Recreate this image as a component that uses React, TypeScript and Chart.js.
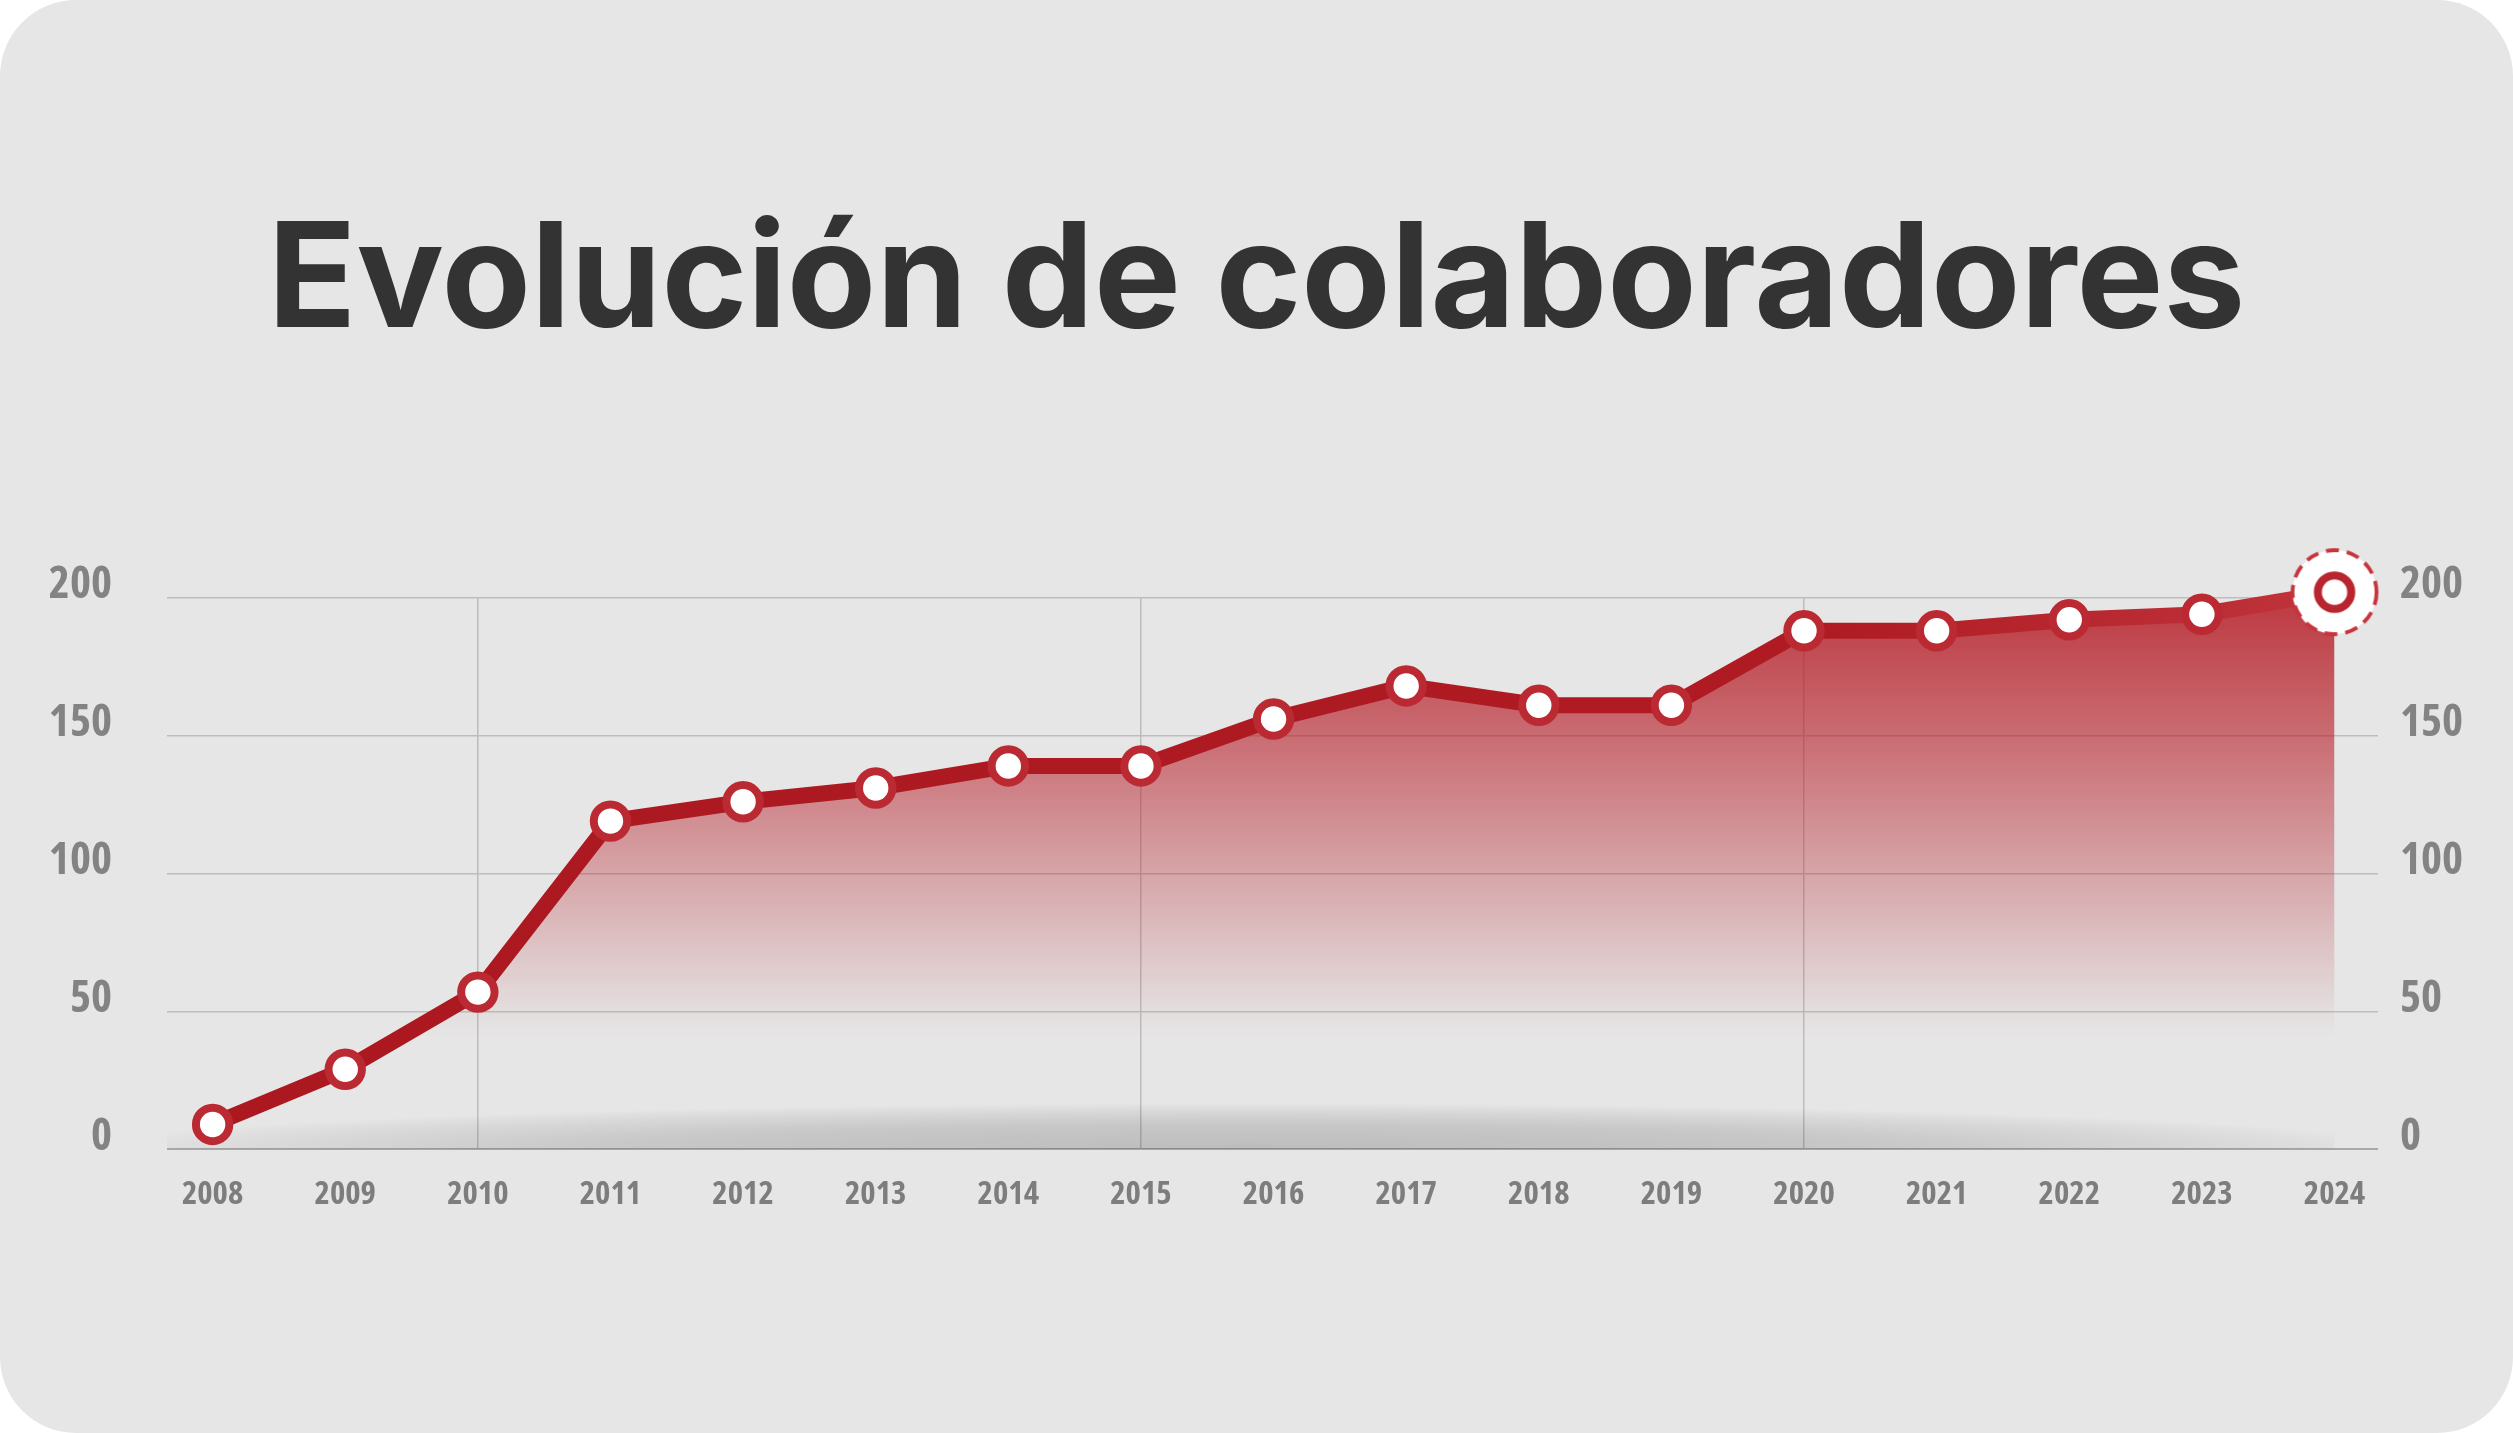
import React, { useEffect, useRef } from 'react';
import { Chart, registerables } from 'chart.js';

Chart.register(...registerables);

// ---- data ----
const TITLE = 'Evolución de colaboradores';
const years = [2008, 2009, 2010, 2011, 2012, 2013, 2014, 2015, 2016, 2017, 2018, 2019, 2020, 2021, 2022, 2023, 2024];
const collaborators = [9, 29, 57, 119, 126, 131, 139, 139, 156, 168, 161, 161, 188, 188, 192, 194, 202];
const yTicks = [0, 50, 100, 150, 200];
const gridYears = [2010, 2015, 2020];

// ---- layout ----
const W = 2513;
const H = 1433;
const AREA = { left: 167, right: 2378, top: 597.7, bottom: 1149.3 };
const X_MIN = 2007.656;
const X_MAX = 2024.328;

type FontPick = { weight: string; family: string; xSize: number; ySize: number };

// choose the narrowest-looking installed face for the condensed tick labels
function pickTickFont(): FontPick {
  const ctx = document.createElement('canvas').getContext('2d')!;
  const cands = [
    { weight: 'bold', family: "'Liberation Sans Narrow'" },
    { weight: 'bold condensed', family: "'Roboto Condensed'" },
    { weight: 'bold condensed', family: 'Roboto' },
    { weight: 'bold condensed', family: "'Noto Sans'" },
    { weight: 'bold condensed', family: "'Open Sans'" },
    { weight: 'bold', family: 'Roboto' },
  ];
  const target = 190; // width of "2008" at 100px
  let best = cands[cands.length - 1];
  let bestW = 1e9;
  let bestScore = 1e9;
  for (const f of cands) {
    ctx.font = `${f.weight} 100px ${f.family}, 'Liberation Sans', sans-serif`;
    const w = ctx.measureText('2008').width;
    const score = Math.abs(w - target);
    if (score < bestScore) {
      bestScore = score;
      best = f;
      bestW = w;
    }
  }
  ctx.font = `${best.weight} 100px ${best.family}, 'Liberation Sans', sans-serif`;
  const w200 = ctx.measureText('200').width;
  const xWidthSize = 61 / (bestW / 100);
  const yWidthSize = 63 / (w200 / 100);
  const xSize = (33 + xWidthSize) / 2;
  const ySize = (45 + yWidthSize) / 2;
  return { weight: best.weight, family: `${best.family}, 'Liberation Sans', sans-serif`, xSize, ySize };
}

function makeHalo(): HTMLCanvasElement {
  const c = document.createElement('canvas');
  c.width = 100;
  c.height = 100;
  const g = c.getContext('2d')!;
  g.beginPath();
  g.arc(50, 50, 42, 0, Math.PI * 2);
  g.fillStyle = '#ffffff';
  g.fill();
  g.setLineDash([13, 8]);
  g.lineWidth = 3.8;
  g.strokeStyle = '#c7343c';
  g.stroke();
  g.setLineDash([]);
  g.beginPath();
  g.arc(50, 50, 16.7, 0, Math.PI * 2);
  g.fillStyle = '#ffffff';
  g.fill();
  g.lineWidth = 8;
  g.strokeStyle = '#b9252e';
  g.stroke();
  return c;
}

const floorShadow = {
  id: 'floorShadow',
  beforeDatasetsDraw(chart: any) {
    const { ctx, chartArea, scales } = chart;
    const x0 = chartArea.left;
    const x1 = scales.x.getPixelForValue(years[years.length - 1]);
    const yb = scales.y.getPixelForValue(0);
    const cx = (x0 + x1) / 2;
    const rx = ((x1 - x0) / 2) * 1.08;
    const ry = 46;
    ctx.save();
    ctx.beginPath();
    ctx.rect(x0, yb - ry, x1 - x0, ry);
    ctx.clip();
    ctx.translate(cx, yb);
    ctx.scale(rx / ry, 1);
    const grad = ctx.createRadialGradient(0, 0, 0, 0, 0, ry);
    grad.addColorStop(0, 'rgba(0,0,0,0.18)');
    grad.addColorStop(0.55, 'rgba(0,0,0,0.13)');
    grad.addColorStop(0.85, 'rgba(0,0,0,0.05)');
    grad.addColorStop(1, 'rgba(0,0,0,0)');
    ctx.fillStyle = grad;
    ctx.fillRect(-ry, -ry, ry * 2, ry);
    ctx.restore();
  },
};

export default function App() {
  const ref = useRef<HTMLCanvasElement | null>(null);

  useEffect(() => {
    if (!ref.current) return;
    const halo = makeHalo();
    const tf = pickTickFont();
    const chart = new Chart(ref.current, {
      type: 'line',
      data: {
        datasets: [
          {
            label: 'Colaboradores',
            data: years.map((y, i) => ({ x: y, y: collaborators[i] })),
            borderColor: (c: any) => {
              const { chart: ch } = c;
              const a = ch.chartArea;
              if (!a) return '#ae1a22';
              const g = ch.ctx.createLinearGradient(a.left, 0, a.right, 0);
              g.addColorStop(0, '#ab1820');
              g.addColorStop(0.75, '#b01b23');
              g.addColorStop(1, '#c1363e');
              return g;
            },
            backgroundColor: (c: any) => {
              const { chart: ch } = c;
              const a = ch.chartArea;
              if (!a) return 'rgba(185,30,40,0.5)';
              const g = ch.ctx.createLinearGradient(0, a.top, 0, a.top + 440);
              g.addColorStop(0, 'rgba(182,28,38,0.86)');
              g.addColorStop(0.32, 'rgba(182,28,38,0.6)');
              g.addColorStop(0.64, 'rgba(182,28,38,0.31)');
              g.addColorStop(0.94, 'rgba(182,28,38,0.04)');
              g.addColorStop(1, 'rgba(182,28,38,0)');
              return g;
            },
            fill: 'origin',
            borderWidth: 16,
            borderJoinStyle: 'round',
            borderCapStyle: 'round',
            tension: 0,
            clip: false as any,
            pointStyle: (c: any) => (c.dataIndex === years.length - 1 ? halo : 'circle'),
            pointRadius: 16.7,
            pointHoverRadius: 16.7,
            pointBorderWidth: 8,
            pointBackgroundColor: '#ffffff',
            pointBorderColor: '#bb2a32',
          } as any,
        ],
      },
      options: {
        responsive: false,
        animation: false,
        devicePixelRatio: 1,
        layout: { padding: 0 },
        plugins: {
          legend: { display: false },
          tooltip: { enabled: false },
          title: {
            display: true,
            text: TITLE,
            color: '#333333',
            font: { family: "Inter, 'Noto Sans', sans-serif", weight: 'bold', size: 146, lineHeight: 1 },
            padding: { top: 210, bottom: 241.7 },
          },
        },
        scales: {
          x: {
            type: 'linear',
            min: X_MIN,
            max: X_MAX,
            afterBuildTicks: (s: any) => {
              s.ticks = years.map((v) => ({ value: v }));
            },
            afterFit: (s: any) => {
              s.height = H - AREA.bottom;
            },
            grid: {
              drawTicks: false,
              color: (c: any) => (c.tick && gridYears.includes(c.tick.value) ? '#bcbcbc' : 'rgba(0,0,0,0)'),
              lineWidth: 1.5,
            },
            border: { display: false },
            ticks: {
              autoSkip: false,
              maxRotation: 0,
              padding: 26,
              color: '#7d7d7d',
              font: { family: tf.family, weight: tf.weight, size: tf.xSize },
              callback: (v: any) => String(v),
            },
          },
          y: {
            position: 'left',
            min: 0,
            max: 200,
            afterBuildTicks: (s: any) => {
              s.ticks = yTicks.map((v) => ({ value: v }));
            },
            afterFit: (s: any) => {
              s.width = AREA.left;
            },
            grid: {
              drawTicks: false,
              color: (c: any) => (c.tick && c.tick.value === 0 ? '#a8a8a8' : '#bdbdbd'),
              lineWidth: (c: any) => (c.tick && c.tick.value === 0 ? 2 : 1.5),
            },
            border: { display: false },
            ticks: {
              padding: 55,
              labelOffset: -12,
              color: '#838383',
              font: { family: tf.family, weight: tf.weight, size: tf.ySize },
            },
          },
          y2: {
            position: 'right',
            min: 0,
            max: 200,
            afterBuildTicks: (s: any) => {
              s.ticks = yTicks.map((v) => ({ value: v }));
            },
            afterFit: (s: any) => {
              s.width = W - AREA.right;
            },
            grid: { drawTicks: false, drawOnChartArea: false },
            border: { display: false },
            ticks: {
              padding: 22,
              labelOffset: -12,
              color: '#838383',
              font: { family: tf.family, weight: tf.weight, size: tf.ySize },
            },
          },
        },
      } as any,
      plugins: [floorShadow],
    });
    return () => chart.destroy();
  }, []);

  return (
    <div
      style={{
        position: 'fixed',
        left: 0,
        top: 0,
        width: W,
        height: H,
        borderRadius: 76,
        background: '#e6e6e6',
        overflow: 'hidden',
      }}
    >
      <canvas ref={ref} width={W} height={H} style={{ display: 'block', width: W, height: H }} />
    </div>
  );
}
